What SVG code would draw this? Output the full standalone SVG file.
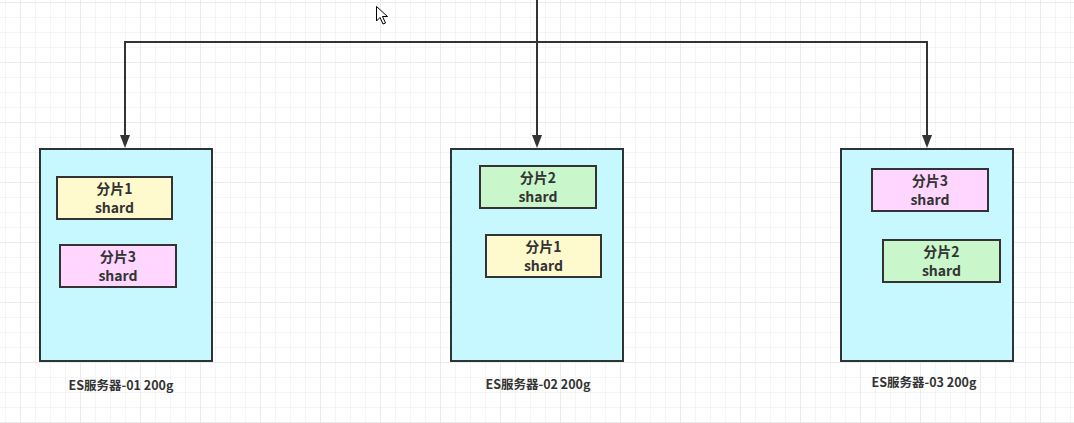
<svg xmlns="http://www.w3.org/2000/svg" width="1074" height="423" viewBox="0 0 1074 423">
<defs>
<pattern id="gMinor" x="5" y="2" width="15" height="15" patternUnits="userSpaceOnUse">
<path d="M0 0 H15 M0 0 V15" fill="none" stroke="#ececec" stroke-width="1"/>
</pattern>
<pattern id="gMajor" x="20" y="2" width="60" height="60" patternUnits="userSpaceOnUse">
<path d="M0 0 H60 M0 0 V60" fill="none" stroke="#e2e2e2" stroke-width="1"/>
</pattern>
<style>
.server{fill:#c8f8ff;stroke:#2d3436;stroke-width:2}
.s1{fill:#fffacd;stroke:#333333;stroke-width:2}
.s2{fill:#c9f6cb;stroke:#333333;stroke-width:2}
.s3{fill:#ffd6ff;stroke:#333333;stroke-width:2}
.t{font-family:"Noto Sans CJK SC","Noto Sans",sans-serif;font-weight:bold;font-size:14px;fill:#333333;text-anchor:middle}
.lbl{font-family:"Noto Sans CJK SC","Noto Sans",sans-serif;font-weight:bold;font-size:12.5px;fill:#333333;text-anchor:middle}
.c{fill:none;stroke:#333333;stroke-width:2}
.ah{fill:#333333}
</style>
</defs>
<rect width="1074" height="423" fill="#ffffff"/>
<rect width="1074" height="423" fill="url(#gMinor)"/>
<rect width="1074" height="423" fill="url(#gMajor)"/>

<g id="connectors">
<path class="c" d="M537 0 V136"/>
<path class="c" d="M537 42 H125 V136"/>
<path class="c" d="M537 42 H927 V136"/>
<path class="ah" d="M532 135 L542 135 L537 148 Z"/>
<path class="ah" d="M120 135 L130 135 L125 148 Z"/>
<path class="ah" d="M922 135 L932 135 L927 148 Z"/>
</g>

<g id="server1">
<rect class="server" x="40" y="149" width="172" height="212"/>
<text class="lbl" x="121" y="390">ES服务器-01 200g</text>
</g>
<g id="server1-shard1">
<rect class="s1" x="57" y="177" width="115" height="42"/>
<text class="t" x="114.5" y="194">分片1</text>
<text class="t" x="114.5" y="213">shard</text>
</g>
<g id="server1-shard3">
<rect class="s3" x="60" y="245" width="116" height="42"/>
<text class="t" x="118" y="262">分片3</text>
<text class="t" x="118" y="281">shard</text>
</g>

<g id="server2">
<rect class="server" x="451" y="149" width="172" height="212"/>
<text class="lbl" x="538" y="389">ES服务器-02 200g</text>
</g>
<g id="server2-shard2">
<rect class="s2" x="480" y="166" width="116" height="42"/>
<text class="t" x="538" y="183">分片2</text>
<text class="t" x="538" y="202">shard</text>
</g>
<g id="server2-shard1">
<rect class="s1" x="486" y="235" width="115" height="42"/>
<text class="t" x="543.5" y="252">分片1</text>
<text class="t" x="543.5" y="271">shard</text>
</g>

<g id="server3">
<rect class="server" x="841" y="149" width="172" height="212"/>
<text class="lbl" x="924" y="387">ES服务器-03 200g</text>
</g>
<g id="server3-shard3">
<rect class="s3" x="872" y="169" width="116" height="42"/>
<text class="t" x="930" y="186">分片3</text>
<text class="t" x="930" y="205">shard</text>
</g>
<g id="server3-shard2">
<rect class="s2" x="883" y="240" width="117" height="42"/>
<text class="t" x="941.5" y="257">分片2</text>
<text class="t" x="941.5" y="276">shard</text>
</g>

<path d="M376.5 6.5 V21 L380 17.5 L383 24 L385.5 23 L382.5 16.5 L387.5 16.5 Z" fill="#ffffff" stroke="#000000" stroke-width="1" stroke-linejoin="round"/>
</svg>
